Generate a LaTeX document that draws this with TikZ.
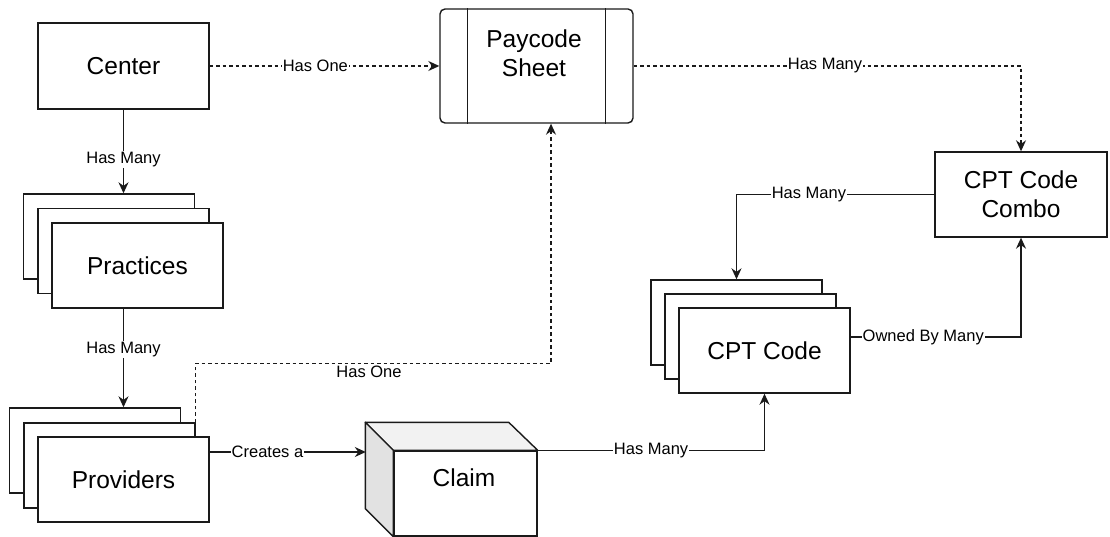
\documentclass[tikz,border=0pt]{standalone}
\usepackage{fontspec}
\setmainfont{Liberation Sans}
\usetikzlibrary{arrows.meta,calc}
\definecolor{lc}{HTML}{1A1A1A}
\definecolor{topf}{HTML}{F2F2F2}
\definecolor{sidef}{HTML}{E2E2E2}
\newcommand\boxfont{\fontsize{24.5}{29}\selectfont}
\newcommand\lblfont{\fontsize{16.5}{19}\selectfont}
\begin{document}
\begin{tikzpicture}[x=1pt,y=-1pt,
  box/.style={draw=lc, line width=1.4pt, fill=white, inner sep=0pt, font=\boxfont, align=center},
  sbox/.style={box, minimum width=171pt, minimum height=85pt},
  txt/.style={inner sep=0pt, font=\boxfont, align=center},
  lbl/.style={fill=white, inner sep=1pt, font=\lblfont},
  conn/.style={draw=lc, line width=1.4pt},
  arr/.style={-{Stealth[length=11pt,width=10pt]}},
  dsh/.style={dash pattern=on 3.5pt off 3pt}]
\useasboundingbox (0,0) rectangle (1110,537);

% Center
\node[box, minimum width=171pt, minimum height=86pt] (center) at (123.5,66) {Center};

% Paycode Sheet
\node[box, rounded corners=5pt, minimum width=193pt, minimum height=114pt] (paycode) at (536.5,66) {};
\draw[conn] ([xshift=28pt]paycode.north west) -- ([xshift=28pt]paycode.south west);
\draw[conn] ([xshift=-28pt]paycode.north east) -- ([xshift=-28pt]paycode.south east);
\node[txt] (paytext) at (534,53.5) {Paycode\\Sheet};

% CPT Code Combo
\node[box, minimum width=172pt, minimum height=85pt] (combo) at (1021,194.5) {CPT Code\\Combo};

% Practices stack
\node[sbox] (prac3) at (109,236.5) {};
\node[sbox] (prac2) at (123.5,251) {};
\node[sbox] (prac1) at (137.5,265.5) {Practices};

% Providers stack
\node[sbox] (prov3) at (95,450.5) {};
\node[sbox] (prov2) at (109.5,465.5) {};
\node[sbox] (prov1) at (123.5,479.5) {Providers};

% CPT Code stack
\node[sbox] (cpt3) at (736.5,322.5) {};
\node[sbox] (cpt2) at (750.5,336.5) {};
\node[sbox] (cpt1) at (764.5,350.5) {CPT Code};

% Claim cube
\node[inner sep=0pt, minimum width=171pt, minimum height=113pt] (claim) at (451.5,479.5) {};
\node[box, minimum width=143pt, minimum height=85pt] (claimf) at (465.5,493.5) {};
\draw[conn, fill=topf, line join=round] ($(claimf.north west)+(-28,-28)$) -- ($(claimf.north east)+(-29,-28)$) -- (claimf.north east) -- (claimf.north west) -- cycle;
\draw[conn, fill=sidef, line join=round] ($(claimf.north west)+(-28,-28)$) -- (claimf.north west) -- (claimf.south west) -- ($(claimf.south west)+(-28,-28)$) -- cycle;
\node[txt] (claimtext) at (464,478) {Claim};

% Connectors
\draw[conn, dsh, arr] (center.east) -- node[lbl, pos=0.46] {Has One} (paycode.west);
\draw[conn, dsh, arr] (paycode.east) -| node[lbl, pos=0.247] {Has Many} (combo.north);
\draw[conn, arr] (center.south) -- node[lbl, pos=0.6] {Has Many} (center.south |- prac3.north);
\draw[conn, arr] (center.south |- prac1.south) -- node[lbl, pos=0.41] {Has Many} (center.south |- prov3.north);
\draw[conn, dsh, arr] (prov2.north east) -- ++(0,-59) -| ([xshift=14.5pt]paycode.south);
\node[lbl] (hasone2) at (369,371.5) {Has One};
\coordinate (ce) at ([yshift=27.5pt]prov1.east);
\draw[conn, arr] (ce) -- node[lbl, pos=0.37] {Creates a} (ce -| claim.west);
\draw[conn, arr] (claimf.north east) -| node[lbl, pos=0.25] {Has Many} (cpt1.south);
\draw[conn, arr] (combo.west) -| node[lbl, pos=0.317] {Has Many} (cpt3.north);
\draw[conn, arr] ([yshift=13.5pt]cpt1.east) -| node[lbl, pos=0.213] {Owned By Many} (combo.south);
\end{tikzpicture}
\end{document}
